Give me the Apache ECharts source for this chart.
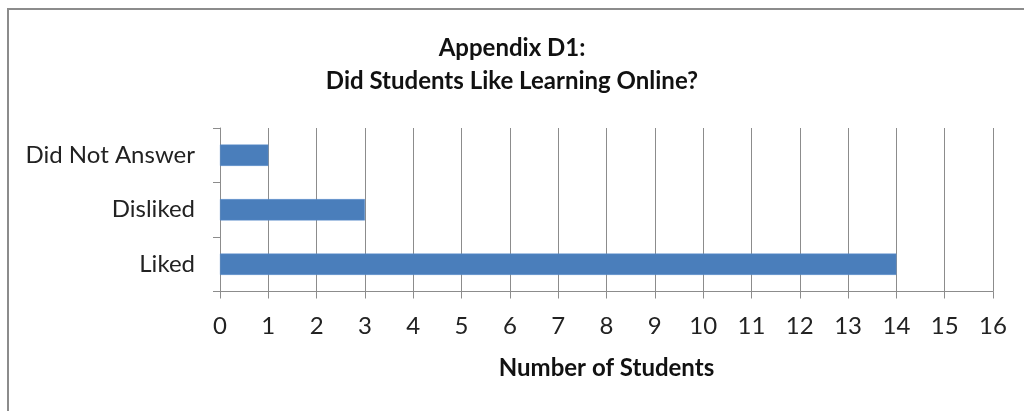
<!DOCTYPE html>
<html>
<head>
<meta charset="utf-8">
<script src="https://cdn.jsdelivr.net/npm/echarts@6/dist/echarts.min.js"></script>
<style>
html,body{margin:0;padding:0;background:#fff;}
#chart{width:1024px;height:411px;}
</style>
</head>
<body>
<div id="chart"></div>
<script>
const categories = ['Liked', 'Disliked', 'Did Not Answer'];
const studentCounts = [14, 3, 1];
const xTicks = [0, 16, 1]; // min, max, interval
const titleLines = ['Appendix D1:', 'Did Students Like Learning Online?'];
const xAxisTitle = 'Number of Students';

const chart = echarts.init(document.getElementById('chart'));
const font = 'Lato, "Open Sans", sans-serif';
chart.setOption({
  animation: false,
  backgroundColor: '#fff',
  graphic: [{
    type: 'rect',
    shape: {x: 8, y: 9, width: 1040, height: 430},
    style: {fill: 'none', stroke: '#8c8c8c', lineWidth: 2},
    silent: true
  }],
  title: {
    text: titleLines.join('\n'),
    left: 'center',
    top: 32,
    padding: 0,
    textStyle: {fontFamily: font, fontWeight: 'bold', fontSize: 24, color: '#111', lineHeight: 33}
  },
  grid: {left: 220, right: 31, top: 128, bottom: 119.5, containLabel: false},
  xAxis: {
    type: 'value',
    min: xTicks[0], max: xTicks[1], interval: xTicks[2],
    name: xAxisTitle,
    nameLocation: 'middle',
    nameGap: 65,
    nameTextStyle: {fontFamily: font, fontWeight: 'bold', fontSize: 24, color: '#111'},
    axisLine: {show: true, lineStyle: {color: '#8c8c8c', width: 1}},
    axisTick: {show: true, length: 7, lineStyle: {color: '#8c8c8c'}},
    axisLabel: {fontFamily: font, fontSize: 24, color: '#222', margin: 23},
    splitLine: {show: true, lineStyle: {color: '#8c8c8c', width: 1}}
  },
  yAxis: {
    type: 'category',
    data: categories,
    axisLine: {show: true, lineStyle: {color: '#8c8c8c', width: 1}},
    axisTick: {show: true, length: 7, lineStyle: {color: '#8c8c8c'}},
    axisLabel: {fontFamily: font, fontSize: 24, color: '#222', margin: 25},
    splitLine: {show: false}
  },
  series: [{
    type: 'bar',
    data: studentCounts,
    barCategoryGap: '61%',
    itemStyle: {color: '#4a7ebb', borderColor: '#5b8fcf', borderWidth: 0.5}
  }]
});
</script>
</body>
</html>
